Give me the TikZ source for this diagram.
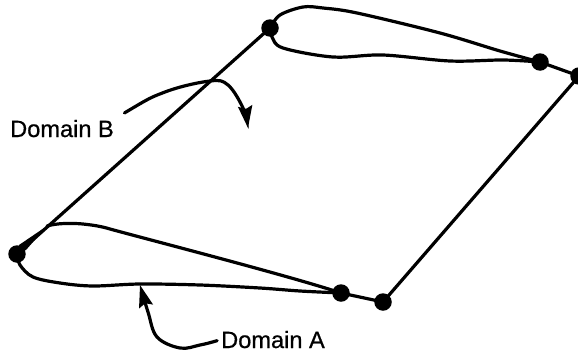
\documentclass[tikz,border=0pt]{standalone}
\usepackage{fontspec}
\newfontfamily\labfont{Liberation Sans}[FakeBold=0.6]
\usetikzlibrary{arrows.meta}
\tikzset{
  joint/.style={circle,fill=black,inner sep=0pt,minimum size=17.5pt},
  wing/.style={line width=3.2pt,line cap=round,line join=round},
  leader/.style={line width=3.2pt,line cap=round,shorten <=4pt,-{Stealth[length=22pt,width=14pt,inset=3pt]}},
  lab/.style={inner sep=0pt,anchor=base west,font=\fontsize{23.6}{25}\selectfont\labfont}
}
\begin{document}
\begin{tikzpicture}[x=1pt,y=-1pt]
\useasboundingbox (0,0) rectangle (578,356);
\clip (0,0) rectangle (578,356);
\node[joint] (a1) at (17,254) {};
\node[joint] (a2) at (341,293) {};
\node[joint] (a3) at (383,302) {};
\node[joint] (b1) at (270,28) {};
\node[joint] (b2) at (540,62) {};
\node[joint] (b3) at (579,76) {};
\node[lab] (doma) at (221,348) {Domain A};
\node[lab] (domb) at (10,137) {Domain B};
\coordinate (bstart) at (121,115);
% frame
\draw[wing] (a1.center) -- (b1.center);
\draw[wing] (a2.center) -- (a3.center) -- (b3.center) -- (b2.center);
% thickened nose
\fill (a1.center) -- (19,245) -- (47,226) -- (26,250) -- cycle;
% lower wing section
\draw[wing] (47,226) .. controls (57,223) and (72,223) .. (83,224)
  .. controls (92,225) and (100,226) .. (110,229)
  .. controls (150,240) and (290,276) .. (a2.center);
\draw[wing] plot[smooth,tension=0.55] coordinates {(a1.center) (20,265) (33,277) (60,283) (93,286) (140,284) (200,285) (260,288) (300,291) (a2.center)};
% upper wing section
\draw[wing] plot[smooth,tension=0.55] coordinates {(b1.center) (280,15) (303,7) (323,8) (357,13) (440,33) (500,51) (b2.center)};
\draw[wing] plot[smooth,tension=0.55] coordinates {(b1.center) (272,37) (283,48) (333,57) (383,55) (450,61) (503,60) (b2.center)};
% leaders
\draw[leader] plot[smooth,tension=0.6] coordinates {(doma.west) (200,345) (180,348) (157,337) (148,312) (140,285)};
\draw[leader] plot[smooth,tension=0.6] coordinates {(bstart) (165,92) (210,81) (228,85) (243,108) (248,128)};
\end{tikzpicture}
\end{document}
